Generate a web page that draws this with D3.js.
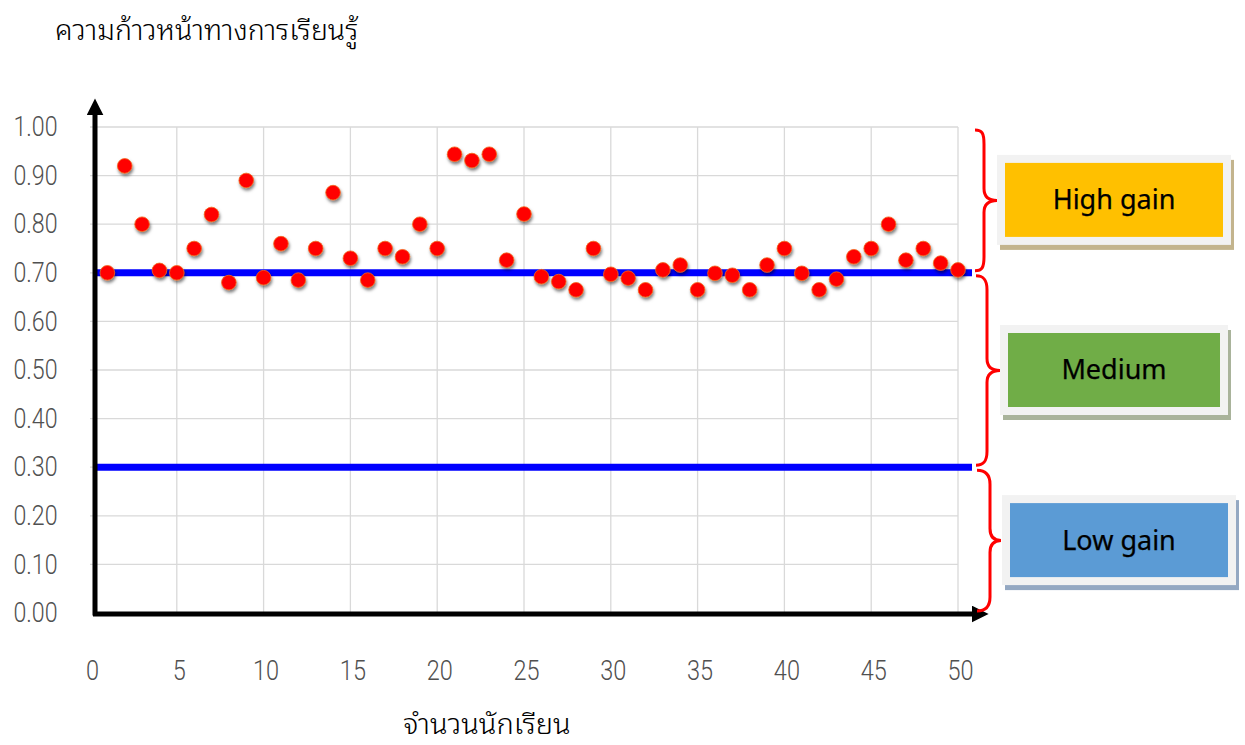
<!DOCTYPE html>
<html>
<head>
<meta charset="utf-8">
<script src="https://cdn.jsdelivr.net/npm/d3@7"></script>
<style>
	body { margin: 0; background: #fff; }
	.tick text { font-family: "Roboto", "Liberation Sans Narrow", sans-serif; font-weight: 300; fill: #505050; }
</style>
</head>
<body>
<div id="chart"></div>
<script>
// ความก้าวหน้าทางการเรียนรู้ ของนักเรียนแต่ละคน (normalized gain)
const students = d3.range(1, 51);
const gains = [
	0.70, 0.92, 0.80, 0.705, 0.70, 0.75, 0.82, 0.68, 0.89, 0.69,
	0.76, 0.685, 0.75, 0.865, 0.73, 0.685, 0.75, 0.733, 0.80, 0.75,
	0.944, 0.931, 0.944, 0.726, 0.821, 0.692, 0.682, 0.665, 0.75, 0.697,
	0.689, 0.665, 0.706, 0.716, 0.665, 0.699, 0.695, 0.665, 0.716, 0.75,
	0.699, 0.665, 0.687, 0.733, 0.75, 0.80, 0.726, 0.75, 0.72, 0.706
];
const thresholds = [0.3, 0.7];
const yTicks = [0, 0.1, 0.2, 0.3, 0.4, 0.5, 0.6, 0.7, 0.8, 0.9, 1.0];
const xTicks = [0, 5, 10, 15, 20, 25, 30, 35, 40, 45, 50];
const levels = ["High gain", "Medium", "Low gain"];
const levelBands = [[1.0, 0.7], [0.7, 0.3], [0.3, 0.0]];
const levelColors = ["#ffc000", "#70ad47", "#5b9bd5"];
const levelShadows = ["#c3b48d", "#a9b39b", "#94a8c2"];

const W = 1245, H = 745;
const svg = d3.select("#chart").append("svg")
	.attr("width", W)
	.attr("height", H);

const x = d3.scaleLinear().domain([0, 50]).range([90, 958]);
const y = d3.scaleLinear().domain([0, 1]).range([613, 127]);

// filters
const defs = svg.append("defs");
defs.append("filter").attr("id", "dotShadow")
	.attr("x", "-50%").attr("y", "-50%").attr("width", "200%").attr("height", "200%")
	.append("feDropShadow")
	.attr("dx", 1).attr("dy", 2.5).attr("stdDeviation", 1.8)
	.attr("flood-color", "#000").attr("flood-opacity", 0.5);
defs.append("marker").attr("id", "arrow")
	.attr("viewBox", "0 0 10 10")
	.attr("refX", 2).attr("refY", 5)
	.attr("markerWidth", 3.4).attr("markerHeight", 3.4)
	.attr("markerUnits", "strokeWidth")
	.attr("orient", "auto")
	.append("path")
	.attr("d", "M0,0 L10,5 L0,10 z")
	.attr("fill", "#000");

// grid
const grid = svg.append("g");
grid.selectAll(".vgrid")
	.data(xTicks.filter(d => d > 0))
	.enter().append("line")
	.attr("x1", d => x(d)).attr("x2", d => x(d))
	.attr("y1", y(0)).attr("y2", y(1))
	.attr("stroke", "#d9d9d9").attr("stroke-width", 1.3);
grid.selectAll(".hgrid")
	.data(yTicks.filter(d => d > 0))
	.enter().append("line")
	.attr("x1", x(0)).attr("x2", x(50))
	.attr("y1", d => y(d)).attr("y2", d => y(d))
	.attr("stroke", "#d9d9d9").attr("stroke-width", 1.3);

// tick labels (condensed light digits)
const yAxis = svg.append("g")
	.attr("transform", "translate(61,0)")
	.call(d3.axisLeft(y).tickValues(yTicks).tickFormat(d3.format(".2f")).tickSize(0).tickPadding(4));
yAxis.select(".domain").remove();
yAxis.selectAll("text")
	.attr("font-size", 27)
	.attr("transform", "scale(0.86,1)");

const xAxis = svg.append("g")
	.attr("transform", "translate(2,660)")
	.call(d3.axisBottom(x).tickValues(xTicks).tickSize(0).tickPadding(0));
xAxis.select(".domain").remove();
xAxis.selectAll("text")
	.attr("font-size", 28)
	.attr("transform", "scale(0.84,1)");

// threshold lines
svg.selectAll(".thr")
	.data(thresholds)
	.enter().append("line")
	.attr("x1", 95).attr("x2", 972)
	.attr("y1", d => y(d)).attr("y2", d => y(d))
	.attr("stroke", "#0000ff").attr("stroke-width", 7);

// axes with arrows
svg.append("line")
	.attr("x1", 95).attr("y1", y(0) + 2.5)
	.attr("x2", 95).attr("y2", 112)
	.attr("stroke", "#000").attr("stroke-width", 5)
	.attr("marker-end", "url(#arrow)");
svg.append("line")
	.attr("x1", 93).attr("y1", y(0) + 1)
	.attr("x2", 975).attr("y2", y(0) + 1)
	.attr("stroke", "#000").attr("stroke-width", 5)
	.attr("marker-end", "url(#arrow)");

// points
svg.append("g").selectAll("circle")
	.data(students)
	.enter().append("circle")
	.attr("cx", (d, i) => x(d))
	.attr("cy", (d, i) => y(gains[i]))
	.attr("r", 7.3)
	.attr("fill", "#ff0000")
	.attr("stroke", "#f4661b")
	.attr("stroke-width", 0.8)
	.attr("filter", "url(#dotShadow)");

// braces
function bracePath(yt, yb, x0, xm, xt) {
	const ym = (yt + yb) / 2;
	return "M" + x0 + "," + yt +
		" C" + (x0 + 7) + "," + yt + " " + xm + "," + (yt + 3) + " " + xm + "," + (yt + 14) +
		" L" + xm + "," + (ym - 12) +
		" C" + xm + "," + (ym - 3) + " " + (xm + 5) + "," + ym + " " + xt + "," + ym +
		" C" + (xm + 5) + "," + ym + " " + xm + "," + (ym + 3) + " " + xm + "," + (ym + 12) +
		" L" + xm + "," + (yb - 14) +
		" C" + xm + "," + (yb - 3) + " " + (x0 + 7) + "," + yb + " " + x0 + "," + yb;
}
const braceX = [[975, 984, 997], [976, 987, 1000], [977, 990, 1001]];
svg.append("g").selectAll("path")
	.data(levelBands)
	.enter().append("path")
	.attr("d", (d, i) => bracePath(y(d[0]) + 3, y(d[1]) - 2, braceX[i][0], braceX[i][1], braceX[i][2]))
	.attr("fill", "none")
	.attr("stroke", "#ff0000")
	.attr("stroke-width", 3);

// legend boxes
const boxX = [997, 1000, 1002];
const boxW = [234, 228, 234];
const legend = svg.append("g").selectAll("g")
	.data(levels)
	.enter().append("g")
	.attr("transform", (d, i) => {
		const cy = (y(levelBands[i][0]) + y(levelBands[i][1])) / 2;
		return "translate(" + boxX[i] + "," + (cy - 45) + ")";
	});
legend.append("rect")
	.attr("x", 3).attr("y", 5)
	.attr("width", (d, i) => boxW[i]).attr("height", 90)
	.attr("fill", (d, i) => levelShadows[i]);
legend.append("rect")
	.attr("x", 0).attr("y", 0)
	.attr("width", (d, i) => boxW[i]).attr("height", 90)
	.attr("fill", "#f2f2f2");
legend.append("rect")
	.attr("x", 8).attr("y", 8)
	.attr("width", (d, i) => boxW[i] - 16).attr("height", 74)
	.attr("fill", (d, i) => levelColors[i]);
legend.append("text")
	.attr("x", (d, i) => boxW[i] / 2)
	.attr("y", 45)
	.attr("dy", "0.35em")
	.attr("text-anchor", "middle")
	.attr("font-family", "'Noto Sans', 'Open Sans', sans-serif")
	.attr("font-weight", 400)
	.attr("font-size", 27)
	.attr("fill", "#000")
	.attr("stroke", "#000")
	.attr("stroke-width", 0.25)
	.text(d => d);

// titles
svg.append("text")
	.attr("x", 55).attr("y", 40)
	.attr("font-family", "'Noto Sans Thai Looped', 'Noto Sans Thai', 'Noto Sans', sans-serif")
	.attr("font-weight", 300)
	.attr("font-size", 28.5)
	.attr("fill", "#000")
	.text("ความก้าวหน้าทางการเรียนรู้");
svg.append("text")
	.attr("x", 487).attr("y", 734)
	.attr("text-anchor", "middle")
	.attr("font-family", "'Noto Sans Thai Looped', 'Noto Sans Thai', 'Noto Sans', sans-serif")
	.attr("font-weight", 300)
	.attr("font-size", 29)
	.attr("fill", "#000")
	.text("จำนวนนักเรียน");
</script>
</body>
</html>
